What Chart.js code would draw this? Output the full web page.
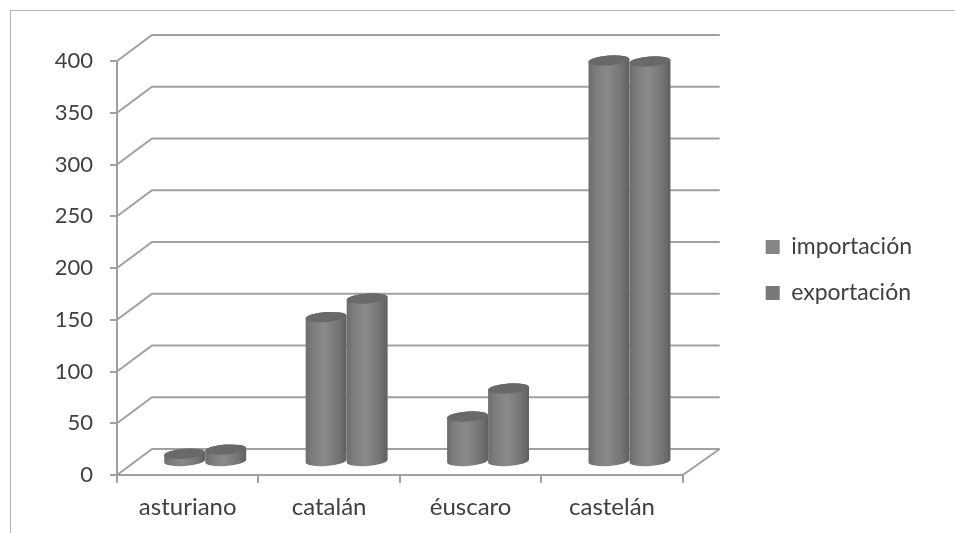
<!DOCTYPE html>
<html>
<head>
<meta charset="utf-8">
<title>importación y exportación</title>
<script src="https://cdn.jsdelivr.net/npm/chart.js@4/dist/chart.umd.min.js"></script>
<style>
    html, body { margin: 0; background: #fff; overflow: hidden; }
    #wrap { position: relative; width: 955px; height: 533px; }
    #frame { position: absolute; left: 10px; top: 10px; right: 0; bottom: 0; border-left: 1px solid #b4b4b4; border-top: 1px solid #b4b4b4; }
    canvas { position: absolute; left: 0; top: 0; }
</style>
</head>
<body>
<div id="wrap">
    <div id="frame"></div>
    <canvas id="lenguas" width="955" height="533"></canvas>
</div>
<script>
let categories = ['asturiano', 'catalán', 'éuscaro', 'castelán'];
let importacion = [8, 140, 44, 388];
let exportacion = [12, 158, 71, 387];
let y_ticks = [0, 50, 100, 150, 200, 250, 300, 350, 400];

// how far the back wall sits from the front of the axes
let wall = {dx: 35, dy: -26};
let grid_color = '#a0a0a0';

// back wall and floor lines, taken from the scales
let wallPlugin = {
    id: 'wall',
    beforeDatasetsDraw(chart) {
        let ctx = chart.ctx, area = chart.chartArea, y = chart.scales.y;
        ctx.save();
        ctx.strokeStyle = grid_color;
        ctx.lineWidth = 2;
        y_ticks.forEach(function (t) {
            let py = y.getPixelForValue(t);
            ctx.beginPath();
            ctx.moveTo(area.left, py);
            ctx.lineTo(area.left + wall.dx, py + wall.dy);
            ctx.lineTo(area.right + wall.dx + 2, py + wall.dy);
            ctx.stroke();
        });
        // right edge of the floor
        ctx.beginPath();
        ctx.moveTo(area.right, area.bottom);
        ctx.lineTo(area.right + wall.dx + 2, area.bottom + wall.dy);
        ctx.stroke();
        ctx.restore();
    }
};

function drawCylinder(ctx, bar) {
    let left = bar.x - bar.width / 2 + wall.dx / 2;
    let right = left + bar.width;
    let mid = (left + right) / 2;
    let rx = bar.width / 2;
    let ry = 5;
    let tilt = -0.07;
    let top = bar.y + wall.dy / 2;
    let bottom = bar.base + wall.dy / 2;

    let body = ctx.createLinearGradient(left, 0, right, 0);
    body.addColorStop(0, '#6c6c6e');
    body.addColorStop(0.15, '#7b7b7d');
    body.addColorStop(0.45, '#8a8a8c');
    body.addColorStop(0.8, '#747476');
    body.addColorStop(1, '#5f5f61');

    ctx.fillStyle = body;
    ctx.beginPath();
    ctx.ellipse(mid, bottom, rx, ry, tilt, 0, Math.PI);
    ctx.ellipse(mid, top, rx, ry, tilt, Math.PI, 0);
    ctx.closePath();
    ctx.fill();

    ctx.fillStyle = '#69696b';
    ctx.beginPath();
    ctx.ellipse(mid, top, rx, ry, tilt, 0, Math.PI * 2);
    ctx.fill();
}

// bars are drawn as cylinders, legend keeps the dataset colours
let cylinderPlugin = {
    id: 'cylinder',
    beforeDatasetDraw(chart, args) {
        let ctx = chart.ctx;
        ctx.save();
        args.meta.data.forEach(function (bar) {
            drawCylinder(ctx, bar);
        });
        ctx.restore();
        return false;
    }
};

// legend stands away from the plot
let legendGap = {
    id: 'legendGap',
    afterLayout(chart) {
        chart.legend.left += 60;
        chart.legend.right += 60;
        chart.legend.top -= 27;
        chart.legend.bottom -= 27;
    }
};

window.lengua_chart = new Chart(document.getElementById('lenguas').getContext('2d'), {
    type: 'bar',
    data: {
        labels: categories,
        datasets: [
            {label: 'importación', data: importacion, backgroundColor: '#858587', categoryPercentage: 0.58, barPercentage: 1},
            {label: 'exportación', data: exportacion, backgroundColor: '#78787a', categoryPercentage: 0.58, barPercentage: 1}
        ]
    },
    plugins: [wallPlugin, cylinderPlugin, legendGap],
    options: {
        responsive: false,
        animation: false,
        layout: {padding: {top: 61, right: 93}},
        plugins: {
            tooltip: {enabled: false},
            legend: {
                position: 'right',
                labels: {
                    boxWidth: 14,
                    boxHeight: 14,
                    padding: 23,
                    color: '#414141',
                    font: {family: 'Lato', size: 23}
                }
            }
        },
        scales: {
            x: {
                afterFit(scale) { scale.height = 58; },
                grid: {drawOnChartArea: false, color: grid_color, lineWidth: 2, tickLength: 8, offset: true},
                border: {color: grid_color, width: 2},
                ticks: {color: '#414141', font: {family: 'Lato', size: 24}, padding: 10, maxRotation: 0}
            },
            y: {
                min: 0,
                max: 400,
                afterFit(scale) { scale.width = 117; },
                grid: {drawOnChartArea: false, color: grid_color, lineWidth: 2, tickLength: 7},
                border: {color: grid_color, width: 2},
                ticks: {
                    stepSize: 50,
                    color: '#414141',
                    font: {family: 'Lato', size: 22},
                    padding: 17
                }
            }
        }
    }
});
</script>
</body>
</html>
